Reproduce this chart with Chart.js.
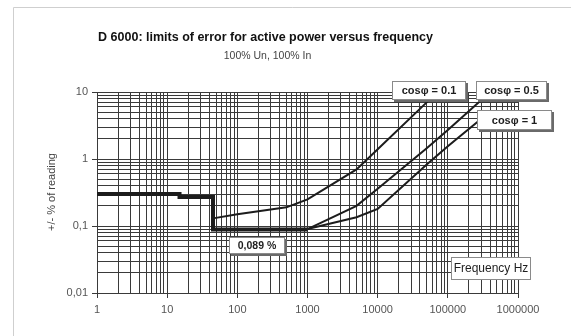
<!DOCTYPE html>
<html>
<head>
<meta charset="utf-8">
<script src="https://cdn.jsdelivr.net/npm/chart.js@4"></script>
<style>
html,body{margin:0;padding:0;background:#fff;}
canvas{display:block;}
</style>
</head>
<body>
<canvas id="c" width="571" height="336"></canvas>
<script>
// ---- data ----
const stepFreq = [1, 15, 15, 45, 45, 1000];
const stepErr  = [0.3, 0.3, 0.27, 0.27, 0.089, 0.089];

const cos01Freq = [45, 100, 500, 1000, 5000, 10000, 50000, 100000];
const cos01Err  = [0.13, 0.15, 0.19, 0.25, 0.7, 1.4, 7, 14];

const cos05Freq = [1000, 5000, 10000, 50000, 100000, 300000, 500000];
const cos05Err  = [0.09, 0.2, 0.36, 1.45, 2.7, 7.6, 12];

const cos1Freq = [1000, 5000, 10000, 50000, 100000, 300000];
const cos1Err  = [0.09, 0.135, 0.18, 0.83, 1.55, 4];

const xDecades = [1, 10, 100, 1000, 10000, 100000, 1000000];
const xTickLabels = ['1', '10', '100', '1000', '10000', '100000', '1000000'];
const yDecades = [0.01, 0.1, 1, 10];
const yTickLabels = ['0,01', '0,1', '1', '10'];

const titleText = 'D 6000: limits of error for active power versus frequency';
const subtitleText = '100% Un, 100% In';
const yTitleText = '+/- % of reading';
const xTitleText = 'Frequency Hz';
const labelCos01 = 'cosφ = 0.1';
const labelCos05 = 'cosφ = 0.5';
const labelCos1 = 'cosφ = 1';
const labelMin = '0,089 %';

// ---- helpers ----
const pts = (xs, ys) => xs.map((x, i) => ({x, y: ys[i]}));
function gridValues(decades) {
  const out = [];
  for (let i = 0; i < decades.length; i++) {
    if (i === decades.length - 1) { out.push(decades[i]); break; }
    for (let m = 1; m <= 9; m++) out.push(decades[i] * m);
  }
  return out;
}
function decIndex(v, decades) {
  for (let i = 0; i < decades.length; i++) {
    if (Math.abs(Math.log10(v) - Math.log10(decades[i])) < 1e-6) return i;
  }
  return -1;
}
const FONT = 'Liberation Sans, Arial, sans-serif';
const GRID = '#3a3a3a';

const decorPlugin = {
  id: 'decor',
  beforeDraw(chart) {
    const ctx = chart.ctx;
    ctx.save();
    ctx.fillStyle = '#fff';
    ctx.fillRect(0, 0, chart.width, chart.height);
    ctx.strokeStyle = '#cfcfcf';
    ctx.lineWidth = 1;
    ctx.beginPath();
    ctx.moveTo(13.5, chart.height);
    ctx.lineTo(13.5, 7.5);
    ctx.lineTo(chart.width, 7.5);
    ctx.stroke();
    ctx.restore();
  },
  afterDatasetsDraw(chart) {
    const ctx = chart.ctx;
    function box(x, y, w, h, text, bold, size, shadow) {
      ctx.save();
      if (shadow) {
        ctx.fillStyle = '#6a6a6a';
        ctx.fillRect(x + 2, y + 2, w, h);
      }
      ctx.fillStyle = '#fff';
      ctx.fillRect(x, y, w, h);
      ctx.strokeStyle = '#8a8a8a';
      ctx.lineWidth = 1;
      ctx.strokeRect(x + 0.5, y + 0.5, w - 1, h - 1);
      ctx.fillStyle = '#1e1e1e';
      ctx.font = (bold ? 'bold ' : '') + size + 'px ' + FONT;
      ctx.textAlign = 'center';
      ctx.textBaseline = 'middle';
      ctx.fillText(text, x + w / 2, y + h / 2 + 0.5);
      ctx.restore();
    }
    box(392, 81, 74, 19, labelCos01, true, 11, true);
    box(476, 81, 71, 19, labelCos05, true, 11, true);
    box(477, 110, 75, 20, labelCos1, true, 11, true);
    box(229, 237, 56, 17, labelMin, true, 10.5, true);
    box(451, 257, 80, 23, xTitleText, false, 12, false);
  },
  afterDraw(chart) {
    const ctx = chart.ctx;
    ctx.save();
    ctx.textAlign = 'center';
    ctx.textBaseline = 'middle';
    ctx.fillStyle = '#111';
    ctx.font = 'bold 12.5px ' + FONT;
    ctx.fillText(titleText, 265.5, 38);
    ctx.fillStyle = '#444';
    ctx.font = '10.5px ' + FONT;
    ctx.fillText(subtitleText, 267.5, 56);
    ctx.translate(52, 192);
    ctx.rotate(-Math.PI / 2);
    ctx.font = '11px ' + FONT;
    ctx.fillStyle = '#444';
    ctx.fillText(yTitleText, 0, 0);
    ctx.restore();
  }
};

const lineStyle = (w) => ({
  showLine: true, borderColor: '#1c1c1c', backgroundColor: '#1c1c1c',
  borderWidth: w, pointRadius: 0, tension: 0, fill: false
});

new Chart(document.getElementById('c'), {
  type: 'scatter',
  data: {
    datasets: [
      Object.assign({data: pts(stepFreq, stepErr)}, lineStyle(4)),
      Object.assign({data: pts(cos01Freq, cos01Err)}, lineStyle(2)),
      Object.assign({data: pts(cos05Freq, cos05Err)}, lineStyle(2)),
      Object.assign({data: pts(cos1Freq, cos1Err)}, lineStyle(2))
    ]
  },
  options: {
    responsive: false,
    animation: false,
    layout: {padding: {left: 0, right: 53, top: 92, bottom: 0}},
    plugins: {legend: {display: false}, tooltip: {enabled: false}, title: {display: false}},
    scales: {
      x: {
        type: 'logarithmic', min: xDecades[0], max: xDecades[xDecades.length - 1],
        afterBuildTicks: s => { s.ticks = gridValues(xDecades).map(v => ({value: v, major: decIndex(v, xDecades) >= 0})); },
        afterFit: s => { s.height = 43; },
        ticks: {
          autoSkip: false, maxRotation: 0, minRotation: 0, padding: 5, color: '#555',
          font: {family: FONT, size: 11},
          callback: (v) => { const i = decIndex(v, xDecades); return i >= 0 ? xTickLabels[i] : ''; }
        },
        grid: {
          color: GRID, lineWidth: 1, tickLength: 5,
          tickColor: c => (c.tick && decIndex(c.tick.value, xDecades) >= 0) ? GRID : 'rgba(0,0,0,0)'
        },
        border: {color: GRID, width: 1}
      },
      y: {
        type: 'logarithmic', min: yDecades[0], max: yDecades[yDecades.length - 1],
        afterBuildTicks: s => { s.ticks = gridValues(yDecades).map(v => ({value: v, major: decIndex(v, yDecades) >= 0})); },
        afterFit: s => { s.width = 97; },
        ticks: {
          autoSkip: false, padding: 4, color: '#555',
          font: {family: FONT, size: 11},
          callback: (v) => { const i = decIndex(v, yDecades); return i >= 0 ? yTickLabels[i] : ''; }
        },
        grid: {
          color: GRID, lineWidth: 1, tickLength: 5,
          tickColor: c => (c.tick && decIndex(c.tick.value, yDecades) >= 0) ? GRID : 'rgba(0,0,0,0)'
        },
        border: {color: GRID, width: 1}
      }
    }
  },
  plugins: [decorPlugin]
});
</script>
</body>
</html>
